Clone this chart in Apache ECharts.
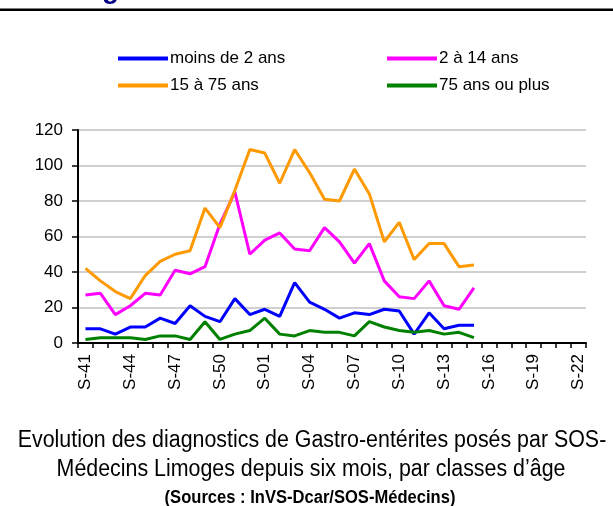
<!DOCTYPE html>
<html style="height: 100%">
<head>
<meta charset="utf-8">
<title>Gastro-entérites SOS-Médecins</title>
<script src="https://cdn.jsdelivr.net/npm/echarts@6/dist/echarts.min.js"></script>
</head>
<body style="height: 100%; margin: 0; background: #fff">
<div id="main" style="width: 613px; height: 506px"></div>
<script type="text/javascript">
// semaines S-41 .. S-52 puis S-01 .. S-22
var weeks = ['S-41','S-42','S-43','S-44','S-45','S-46','S-47','S-48','S-49','S-50','S-51','S-52',
  'S-01','S-02','S-03','S-04','S-05','S-06','S-07','S-08','S-09','S-10','S-11','S-12','S-13',
  'S-14','S-15','S-16','S-17','S-18','S-19','S-20','S-21','S-22'];

var moins2 = [8,8,5,9,9,14,11,21,15,12,25,16,19,15,34,23,19,14,17,16,19,18,5,17,8,10,10];
var de2a14 = [27,28,16,21,28,27,41,39,43,67,85,50,58,62,53,52,65,57,45,56,35,26,25,35,21,19,31];
var de15a75 = [42,35,29,25,38,46,50,52,76,65,86,109,107,90,109,96,81,80,98,84,57,68,47,56,56,43,44];
var plus75 = [2,3,3,3,2,4,4,2,12,2,5,7,14,5,4,7,6,6,4,12,9,7,6,7,5,6,3];

var seriesNames = ['moins de 2 ans', '2 à 14 ans', '15 à 75 ans', '75 ans ou plus'];
var seriesColors = ['#0000ff', '#ff00ff', '#ff9900', '#008000'];
var seriesData = [moins2, de2a14, de15a75, plus75];

var titleLines = ['Evolution des diagnostics de Gastro-entérites posés par SOS-',
  'Médecins Limoges depuis six mois, par classes d\u2019âge'];
var sourceLine = '(Sources : InVS-Dcar/SOS-Médecins)';

var myChart = echarts.init(document.getElementById('main'));

var series = [];
for (var i = 0; i < seriesNames.length; i++) {
  series.push({
    name: seriesNames[i],
    type: 'line',
    data: seriesData[i],
    showSymbol: false,
    symbol: 'none',
    animation: false,
    lineStyle: { color: seriesColors[i], width: 3 },
    itemStyle: { color: seriesColors[i] }
  });
}

var legendBase = {
  orient: 'vertical',
  icon: 'rect',
  itemWidth: 50,
  itemHeight: 4,
  itemGap: 10,
  textStyle: { fontFamily: 'Liberation Sans', fontSize: 17, color: '#000', padding: [0, 0, 0, -3] }
};

var titleFont = '23px "Liberation Sans", Arial, sans-serif';

var option = {
  backgroundColor: '#ffffff',
  animation: false,
  legend: [
    Object.assign({ left: 113, top: 45, data: [seriesNames[0], seriesNames[2]] }, legendBase),
    Object.assign({ left: 382, top: 45, data: [seriesNames[1], seriesNames[3]] }, legendBase)
  ],
  grid: { left: 78, right: 27, top: 130, bottom: 163, containLabel: false },
  xAxis: {
    type: 'category',
    data: weeks,
    boundaryGap: true,
    axisLine: { lineStyle: { color: '#000', width: 2 } },
    axisTick: { show: true, interval: 0, length: 5, lineStyle: { color: '#000', width: 1.5 } },
    axisLabel: {
      interval: 2,
      rotate: 90,
      margin: 11,
      fontFamily: 'Liberation Sans',
      fontSize: 17,
      color: '#000'
    },
    splitLine: { show: false }
  },
  yAxis: {
    type: 'value',
    min: 0,
    max: 120,
    interval: 20,
    axisLine: { show: true, lineStyle: { color: '#000', width: 2 } },
    axisTick: { show: true, length: 6, lineStyle: { color: '#000', width: 1.5 } },
    axisLabel: { margin: 15, fontFamily: 'Liberation Sans', fontSize: 17, color: '#000' },
    splitLine: { show: true, lineStyle: { color: '#c0c0c0', width: 1.5 } }
  },
  series: series,
  graphic: [
    { type: 'rect', left: 0, top: 8.5, shape: { width: 613, height: 2.5 }, style: { fill: '#000' } },
    { type: 'text', x: 102, y: -10, style: { text: 'g', fill: '#000080', font: 'bold 28px "Liberation Sans"', verticalAlign: 'middle' } },
    { type: 'text', x: 312, y: 441, scaleX: 0.93, style: { text: titleLines[0], fill: '#000', font: titleFont, align: 'center', verticalAlign: 'middle' } },
    { type: 'text', x: 311, y: 470, scaleX: 0.93, style: { text: titleLines[1], fill: '#000', font: titleFont, align: 'center', verticalAlign: 'middle' } },
    { type: 'text', x: 310, y: 498, scaleX: 0.92, style: { text: sourceLine, fill: '#000', font: 'bold 18px "Liberation Sans", Arial, sans-serif', align: 'center', verticalAlign: 'middle' } }
  ]
};

myChart.setOption(option);
</script>
</body>
</html>
